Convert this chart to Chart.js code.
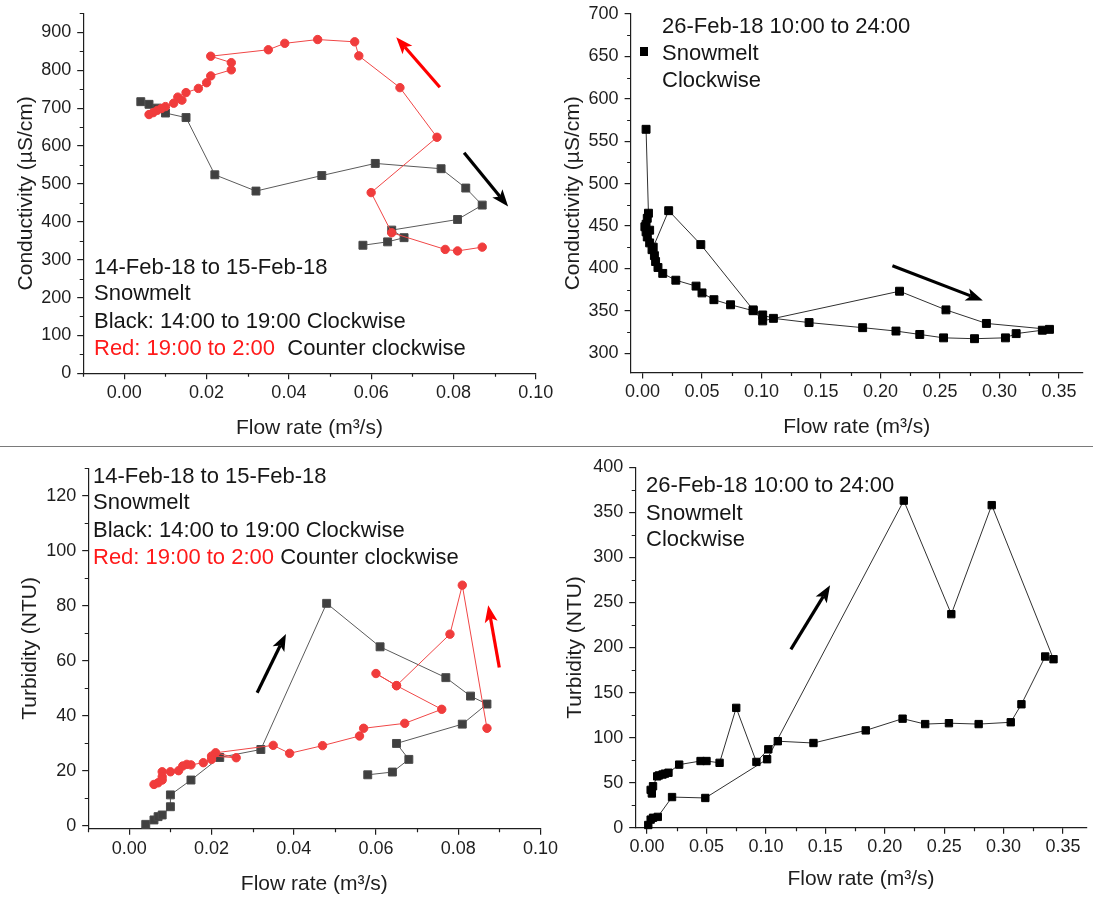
<!DOCTYPE html>
<html>
<head>
<meta charset="utf-8">
<script src="https://cdn.jsdelivr.net/npm/chart.js@4.4.1/dist/chart.umd.min.js"></script>
<style>
  body { margin: 0; background: #fff; width: 1093px; height: 898px; position: relative; overflow: hidden;
         font-family: "Liberation Sans", Arial, sans-serif; }
  canvas { position: absolute; }
  .note { position: absolute; font-size: 22px; line-height: 26px; color: #161616; white-space: pre; }
  .red { color: #ff1a1a; }
  .rule { position: absolute; left: 0; top: 446px; width: 1093px; height: 1px; background: #7a7a7a; }
  .key { position: absolute; width: 8px; height: 9px; background: #000; }
</style>
</head>
<body>
<canvas id="condFeb14"></canvas>
<canvas id="condFeb26"></canvas>
<canvas id="turbFeb14"></canvas>
<canvas id="turbFeb26"></canvas>
<div class="rule"></div>

<div class="note" style="left:94px;top:254px">14-Feb-18 to 15-Feb-18</div>
<div class="note" style="left:94px;top:280px">Snowmelt</div>
<div class="note" style="left:94px;top:308px">Black: 14:00 to 19:00 Clockwise</div>
<div class="note" style="left:94px;top:335px"><span class="red">Red: 19:00 to 2:00</span>  Counter clockwise</div>

<div class="note" style="left:662px;top:13px">26-Feb-18 10:00 to 24:00</div>
<div class="key" style="left:640px;top:47px"></div>
<div class="note" style="left:662px;top:40px">Snowmelt</div>
<div class="note" style="left:662px;top:67px">Clockwise</div>

<div class="note" style="left:93px;top:463px">14-Feb-18 to 15-Feb-18</div>
<div class="note" style="left:93px;top:489px">Snowmelt</div>
<div class="note" style="left:93px;top:517px">Black: 14:00 to 19:00 Clockwise</div>
<div class="note" style="left:93px;top:544px"><span class="red">Red: 19:00 to 2:00</span> Counter clockwise</div>

<div class="note" style="left:646px;top:472px">26-Feb-18 10:00 to 24:00</div>
<div class="note" style="left:646px;top:500px">Snowmelt</div>
<div class="note" style="left:646px;top:526px">Clockwise</div>

<script>
// ---- data ----
// 14/15-Feb conductivity
const condFeb14BlackX = [0.004, 0.006, 0.008, 0.010, 0.015, 0.022, 0.032, 0.048, 0.061, 0.077, 0.083, 0.087, 0.081, 0.065, 0.068, 0.064, 0.058];
const condFeb14BlackY = [717, 710, 700, 687, 675, 524, 481, 522, 554, 540, 489, 444, 406, 378, 358, 347, 338];
const condFeb14RedX = [0.087, 0.081, 0.078, 0.065, 0.060, 0.076, 0.067, 0.057, 0.056, 0.047, 0.039, 0.035, 0.021, 0.026, 0.026, 0.021, 0.020, 0.018, 0.015, 0.013, 0.014, 0.012, 0.010, 0.009, 0.008, 0.007, 0.006];
const condFeb14RedY = [333, 323, 327, 371, 477, 623, 754, 838, 875, 881, 871, 854, 837, 820, 801, 785, 767, 752, 741, 729, 721, 713, 704, 699, 694, 688, 683];

// 26-Feb conductivity
const condFeb26X = [0.003, 0.005, 0.004, 0.003, 0.006, 0.009, 0.022, 0.049, 0.093, 0.101, 0.216, 0.255, 0.289, 0.342, 0.336, 0.314, 0.305, 0.279, 0.253, 0.233, 0.213, 0.185, 0.140, 0.110, 0.101, 0.093, 0.074, 0.060, 0.050, 0.045, 0.028, 0.017, 0.013, 0.011, 0.010, 0.008, 0.006, 0.004, 0.003, 0.002];
const condFeb26Y = [564, 465, 459, 452, 445, 425, 468, 428, 351, 338, 373, 351, 335, 328, 327, 323, 318, 317, 318, 322, 326, 330, 336, 341, 345, 350, 357, 363, 371, 379, 386, 394, 401, 408, 415, 422, 430, 437, 443, 449];

// 14/15-Feb turbidity
const turbFeb14BlackX = [0.004, 0.006, 0.007, 0.008, 0.010, 0.010, 0.015, 0.022, 0.032, 0.048, 0.061, 0.077, 0.083, 0.087, 0.081, 0.065, 0.068, 0.064, 0.058];
const turbFeb14BlackY = [0.6, 2.2, 3.4, 4.0, 7.0, 11.3, 16.7, 24.9, 27.8, 80.9, 65.1, 53.9, 47.2, 44.3, 37.0, 30.0, 24.2, 19.6, 18.6];
const turbFeb14RedX = [0.087, 0.081, 0.078, 0.065, 0.060, 0.065, 0.076, 0.067, 0.057, 0.056, 0.047, 0.039, 0.035, 0.021, 0.026, 0.020, 0.020, 0.018, 0.015, 0.014, 0.013, 0.012, 0.010, 0.008, 0.008, 0.008, 0.007, 0.006];
const turbFeb14RedY = [35.5, 87.5, 69.7, 51.0, 55.4, 51.0, 42.4, 37.3, 35.5, 32.7, 29.2, 26.4, 29.3, 26.6, 24.8, 25.4, 24.2, 23.0, 22.2, 22.4, 21.8, 20.1, 19.7, 19.7, 17.9, 16.7, 15.7, 15.1];

// 26-Feb turbidity
const turbFeb26X = [0.001, 0.003, 0.005, 0.009, 0.021, 0.049, 0.101, 0.216, 0.256, 0.290, 0.342, 0.335, 0.315, 0.306, 0.279, 0.254, 0.234, 0.215, 0.184, 0.140, 0.110, 0.102, 0.092, 0.075, 0.061, 0.050, 0.045, 0.027, 0.018, 0.015, 0.013, 0.010, 0.0085, 0.005, 0.004, 0.003];
const turbFeb26Y = [3, 9, 11, 12, 34, 33, 76, 363, 237, 358, 187, 190, 137, 117, 115, 116, 115, 121, 108, 94, 96, 87, 73, 133, 72, 74, 74, 70, 61, 60, 59, 58, 57, 46, 38, 42];

// arrows (data coordinates, tail -> head)
const condFeb14ArrowRed = { x: [0.0767, 0.0661], y: [755, 887] };
const condFeb14ArrowBlack = { x: [0.0826, 0.0933], y: [582, 440] };
const condFeb26Arrow = { x: [0.210, 0.286], y: [403, 362] };
const turbFeb14ArrowBlack = { x: [0.0311, 0.0381], y: [48.4, 69.8] };
const turbFeb14ArrowRed = { x: [0.0900, 0.0873], y: [57.6, 80.2] };
const turbFeb26Arrow = { x: [0.121, 0.154], y: [198, 269] };

// tick labels
const flowTicksA = [0, 0.02, 0.04, 0.06, 0.08, 0.10];
const flowMinorA = [-0.01, 0.01, 0.03, 0.05, 0.07, 0.09];
const flowTicksB = [0, 0.05, 0.10, 0.15, 0.20, 0.25, 0.30, 0.35];
const flowMinorB = [0.025, 0.075, 0.125, 0.175, 0.225, 0.275, 0.325];
const condTicksA = [0, 100, 200, 300, 400, 500, 600, 700, 800, 900];
const condMinorA = [50, 150, 250, 350, 450, 550, 650, 750, 850, 950];
const condTicksB = [300, 350, 400, 450, 500, 550, 600, 650, 700];
const condMinorB = [325, 375, 425, 475, 525, 575, 625, 675];
const turbTicksA = [0, 20, 40, 60, 80, 100, 120];
const turbMinorA = [10, 30, 50, 70, 90, 110, 130];
const turbTicksB = [0, 50, 100, 150, 200, 250, 300, 350, 400];
const turbMinorB = [25, 75, 125, 175, 225, 275, 325, 375];

// ---- drawing ----
const FONT = '"Liberation Sans", Arial, sans-serif';
const INK = '#1e1e1e';
Chart.defaults.font.family = FONT;

const minorTicks = {
    id: 'minorTicks',
    afterDraw(chart, args, opts) {
        const { ctx, scales: { x, y } } = chart;
        ctx.save();
        ctx.strokeStyle = INK;
        ctx.lineWidth = 1.2;
        ctx.beginPath();
        opts.x.forEach(v => {
            const px = Math.round(x.getPixelForValue(v)) + 0.5;
            ctx.moveTo(px, x.top);
            ctx.lineTo(px, x.top + 3.5);
        });
        opts.y.forEach(v => {
            const py = Math.round(y.getPixelForValue(v)) + 0.5;
            ctx.moveTo(y.right, py);
            ctx.lineTo(y.right - 3.5, py);
        });
        ctx.stroke();
        ctx.restore();
    }
};

const arrows = {
    id: 'arrows',
    afterDatasetsDraw(chart, args, opts) {
        const { ctx, scales: { x, y } } = chart;
        (opts.list || []).forEach(a => {
            const x1 = x.getPixelForValue(a.x[0]), y1 = y.getPixelForValue(a.y[0]);
            const x2 = x.getPixelForValue(a.x[1]), y2 = y.getPixelForValue(a.y[1]);
            const ang = Math.atan2(y2 - y1, x2 - x1);
            const hl = 17, hw = 6.5;
            const bx = x2 - hl * Math.cos(ang), by = y2 - hl * Math.sin(ang);
            const nx = x2 - (hl - 4) * Math.cos(ang), ny = y2 - (hl - 4) * Math.sin(ang);
            ctx.save();
            ctx.strokeStyle = a.color;
            ctx.fillStyle = a.color;
            ctx.lineWidth = 3.2;
            ctx.beginPath();
            ctx.moveTo(x1, y1);
            ctx.lineTo(nx, ny);
            ctx.stroke();
            ctx.beginPath();
            ctx.moveTo(x2, y2);
            ctx.lineTo(bx + hw * Math.sin(ang), by - hw * Math.cos(ang));
            ctx.lineTo(nx, ny);
            ctx.lineTo(bx - hw * Math.sin(ang), by + hw * Math.cos(ang));
            ctx.closePath();
            ctx.fill();
            ctx.restore();
        });
    }
};

function series(xs, ys, style) {
    return Object.assign({
        data: xs.map((x, i) => ({ x, y: ys[i] })),
        showLine: true,
        tension: 0,
        borderWidth: 1,
        pointBorderWidth: 1,
        clip: 12
    }, style);
}

const blackSq = { pointStyle: 'rect', pointRadius: 5.6, borderColor: '#5a5a5a', pointBackgroundColor: '#404040', pointBorderColor: '#4a4a4a' };
const redDot = { pointStyle: 'circle', pointRadius: 4.2, borderColor: '#f04646', pointBackgroundColor: '#f03c3c', pointBorderColor: '#f03c3c' };
const solidSq = { pointStyle: 'rect', pointRadius: 5.6, borderColor: '#303030', pointBackgroundColor: '#000', pointBorderColor: '#000' };

function buildPanel(p) {
    const cv = document.getElementById(p.id);
    const { box, area } = p;
    cv.width = box.width;
    cv.height = box.height;
    cv.style.left = box.left + 'px';
    cv.style.top = box.top + 'px';
    const xH = box.top + box.height - area.bottom;
    const yW = area.left - box.left;
    const noPad = s => { s.paddingTop = 0; s.paddingBottom = 0; s.paddingLeft = 0; s.paddingRight = 0; };

    return new Chart(cv, {
        type: 'scatter',
        data: { datasets: p.datasets },
        options: {
            responsive: false,
            animation: false,
            devicePixelRatio: 1,
            layout: { padding: { left: 0, bottom: 0, top: area.top - box.top, right: box.left + box.width - area.right } },
            plugins: {
                legend: { display: false },
                tooltip: { enabled: false },
                minorTicks: { x: p.xMinor, y: p.yMinor },
                arrows: { list: p.arrows }
            },
            scales: {
                x: {
                    type: 'linear', position: 'bottom', min: p.xRange[0], max: p.xRange[1],
                    afterBuildTicks: s => { s.ticks = p.xTicks.map(v => ({ value: v })); },
                    afterFit: s => { s.height = xH; noPad(s); },
                    ticks: { font: { size: 18 }, color: INK, padding: 3, maxRotation: 0, autoSkip: false, callback: v => v.toFixed(2) },
                    grid: { drawOnChartArea: false, drawTicks: true, tickLength: 6, color: INK, lineWidth: 1.2 },
                    border: { display: true, color: INK, width: 1.2 },
                    title: { display: true, text: 'Flow rate (m³/s)', font: { size: 21 }, color: INK, padding: { top: 0, bottom: p.xTitlePad } }
                },
                y: {
                    type: 'linear', position: 'left', min: p.yRange[0], max: p.yRange[1],
                    afterBuildTicks: s => { s.ticks = p.yTicks.map(v => ({ value: v })); },
                    afterFit: s => { s.width = yW; noPad(s); },
                    ticks: { font: { size: 18 }, color: INK, padding: 6, autoSkip: false, callback: v => String(v) },
                    grid: { drawOnChartArea: false, drawTicks: true, tickLength: 6, color: INK, lineWidth: 1.2 },
                    border: { display: true, color: INK, width: 1.2 },
                    title: { display: true, text: p.yTitle, font: { size: 21 }, color: INK, padding: { top: p.yTitlePad, bottom: 0 } }
                }
            }
        },
        plugins: [minorTicks, arrows]
    });
}

buildPanel({
    id: 'condFeb14',
    box: { left: 0, top: 0, width: 560, height: 445 },
    area: { left: 83.2, right: 535.7, top: 13.4, bottom: 373.3 },
    xRange: [-0.01, 0.10], yRange: [0, 950],
    xTicks: flowTicksA, xMinor: flowMinorA, yTicks: condTicksA, yMinor: condMinorA,
    yTitle: 'Conductivity (µS/cm)', yTitlePad: 13.4, xTitlePad: 4.4,
    datasets: [
        series(condFeb14RedX, condFeb14RedY, redDot),
        series(condFeb14BlackX, condFeb14BlackY, blackSq)
    ],
    arrows: [
        Object.assign({ color: '#ff0000' }, condFeb14ArrowRed),
        Object.assign({ color: '#000' }, condFeb14ArrowBlack)
    ]
});

buildPanel({
    id: 'condFeb26',
    box: { left: 545, top: 0, width: 548, height: 445 },
    area: { left: 630.6, right: 1082.8, top: 14, bottom: 372.6 },
    xRange: [-0.01, 0.37], yRange: [277, 700],
    xTicks: flowTicksB, xMinor: flowMinorB, yTicks: condTicksB, yMinor: condMinorB,
    yTitle: 'Conductivity (µS/cm)', yTitlePad: 15.4, xTitlePad: 5.4,
    datasets: [series(condFeb26X, condFeb26Y, solidSq)],
    arrows: [Object.assign({ color: '#000' }, condFeb26Arrow)]
});

buildPanel({
    id: 'turbFeb14',
    box: { left: 0, top: 450, width: 560, height: 448 },
    area: { left: 88.2, right: 540.4, top: 468.2, bottom: 828.75 },
    xRange: [-0.01, 0.10], yRange: [-1, 130],
    xTicks: flowTicksA, xMinor: flowMinorA, yTicks: turbTicksA, yMinor: turbMinorA,
    yTitle: 'Turbidity (NTU)', yTitlePad: 17.4, xTitlePad: 1.4,
    datasets: [
        series(turbFeb14RedX, turbFeb14RedY, redDot),
        series(turbFeb14BlackX, turbFeb14BlackY, blackSq)
    ],
    arrows: [
        Object.assign({ color: '#000' }, turbFeb14ArrowBlack),
        Object.assign({ color: '#ff0000' }, turbFeb14ArrowRed)
    ]
});

buildPanel({
    id: 'turbFeb26',
    box: { left: 545, top: 450, width: 548, height: 448 },
    area: { left: 635.2, right: 1087, top: 467.3, bottom: 827.7 },
    xRange: [-0.01, 0.37], yRange: [0, 400],
    xTicks: flowTicksB, xMinor: flowMinorB, yTicks: turbTicksB, yMinor: turbMinorB,
    yTitle: 'Turbidity (NTU)', yTitlePad: 18, xTitlePad: 6.4,
    datasets: [series(turbFeb26X, turbFeb26Y, Object.assign({}, solidSq, { pointRadius: 5.2 }))],
    arrows: [Object.assign({ color: '#000' }, turbFeb26Arrow)]
});
</script>
</body>
</html>
